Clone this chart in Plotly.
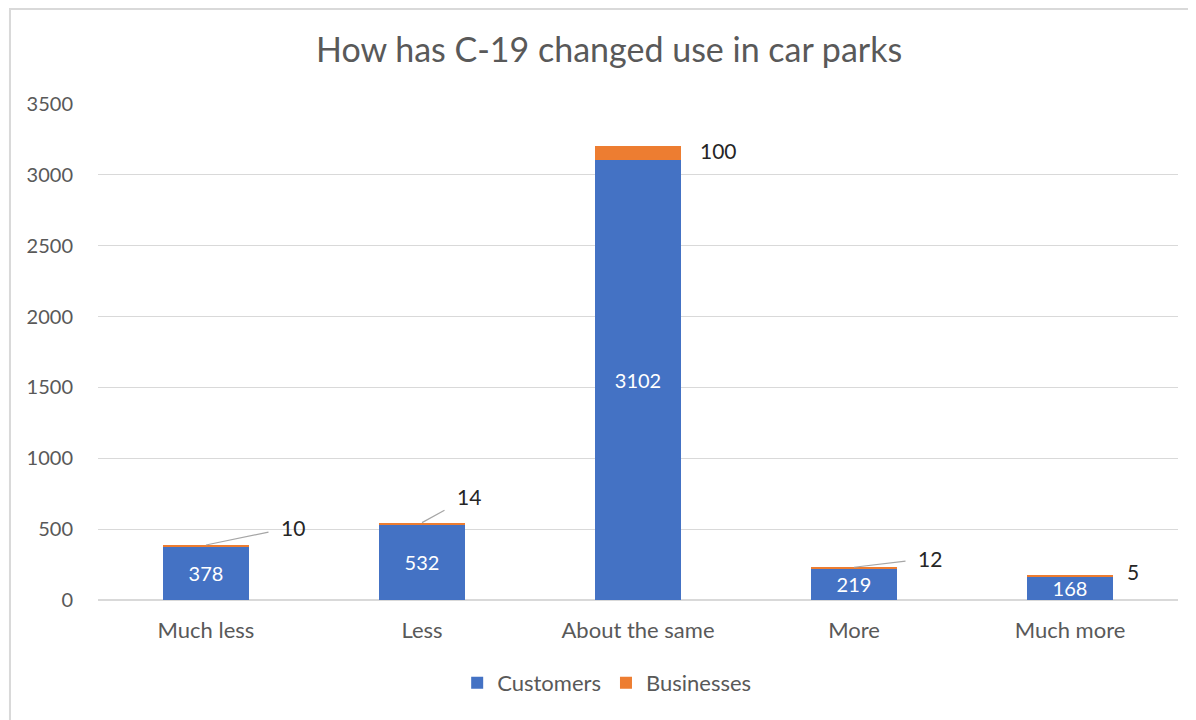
import plotly.graph_objects as go

categories = ["Much less", "Less", "About the same", "More", "Much more"]
customers = [378, 532, 3102, 219, 168]
businesses = [10, 14, 100, 12, 5]

# label offsets (pixels) for the Businesses data labels, and whether a leader line is drawn
label_dx = [87, 47, 80, 76, 63]
label_dy = [-18, -26, 4, -9, -4]
label_leader = [True, True, False, True, False]

FONT = "Lato"
GREY = "#595959"

fig = go.Figure()
fig.add_trace(go.Bar(
    name="Customers", x=categories, y=customers,
    marker=dict(color="#4472C4", line=dict(width=0)),
    text=[str(v) for v in customers], textposition="inside",
    insidetextanchor="middle", textangle=0,
    textfont=dict(family=FONT, size=20, color="white"),
    cliponaxis=False,
))
fig.add_trace(go.Bar(
    name="Businesses", x=categories, y=businesses,
    marker=dict(color="#ED7D31", line=dict(width=0)),
))

for c, cu, b, dx, dy, lead in zip(categories, customers, businesses, label_dx, label_dy, label_leader):
    fig.add_annotation(
        x=c, y=cu + b, xref="x", yref="y", text=str(b),
        showarrow=True, arrowhead=0, arrowwidth=1.2,
        arrowcolor="#A6A6A6" if lead else "rgba(0,0,0,0)",
        ax=dx, ay=dy, borderpad=12 if lead else 0,
        font=dict(family=FONT, size=21, color="#262626"),
    )

fig.update_layout(
    width=1188, height=712,
    barmode="stack", bargap=0.6,
    paper_bgcolor="white", plot_bgcolor="white",
    margin=dict(l=90, r=18, t=96, b=120),
    title=dict(text="How has C-19 changed use in car parks",
               x=0.506, xanchor="center", y=0.941, yanchor="middle",
               font=dict(family=FONT, size=34, color=GREY)),
    font=dict(family=FONT, color=GREY),
    uniformtext=dict(minsize=20, mode="show"),
    legend=dict(orientation="h", x=0.471, xanchor="center", y=-0.167, yanchor="middle",
                font=dict(family=FONT, size=22, color=GREY), itemwidth=30,
                traceorder="normal"),
    showlegend=True,
)
fig.update_yaxes(range=[0, 3500], dtick=500, gridcolor="#D9D9D9", gridwidth=1,
                 zeroline=True, zerolinecolor="#D9D9D9", showline=False,
                 ticklabelstandoff=24,
                 tickfont=dict(family=FONT, size=20, color=GREY))
fig.update_xaxes(showline=False, ticks="", ticklabelstandoff=15,
                 tickfont=dict(family=FONT, size=22, color=GREY))

# outer chart border
fig.add_shape(type="rect", xref="paper", yref="paper",
              x0=-0.0815, x1=1.2, y0=-0.5, y1=1.1915,
              line=dict(color="#D9D9D9", width=2), fillcolor="rgba(0,0,0,0)", layer="below")

fig.write_html("out.html")
